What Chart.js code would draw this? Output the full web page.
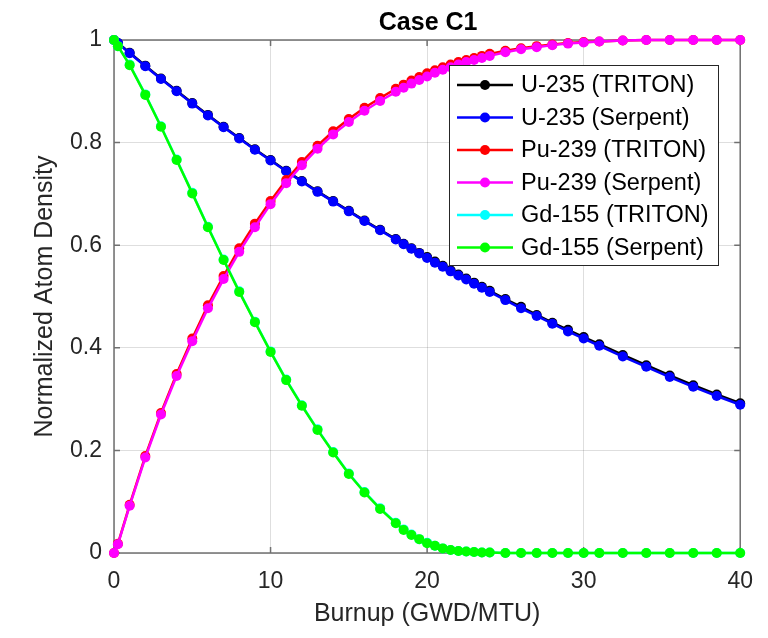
<!DOCTYPE html>
<html>
<head>
<meta charset="utf-8">
<script src="https://cdn.jsdelivr.net/npm/chart.js@4"></script>
<style>body{margin:0;background:#fff}</style>
</head>
<body>
<canvas id="myChart" width="768" height="638"></canvas>
<script>
// Datos
const burnup = [0, 0.25, 1, 2, 3, 4, 5, 6, 7, 8, 9, 10, 11, 12, 13, 14, 15, 16, 17, 18,
  18.5, 19, 19.5, 20, 20.5, 21, 21.5, 22, 22.5, 23, 23.5, 24,
  25, 26, 27, 28, 29, 30, 31, 32.5, 34, 35.5, 37, 38.5, 40];

const u235Triton = [1.000, 0.994, 0.975, 0.950, 0.925, 0.901, 0.877, 0.854, 0.831, 0.809, 0.787, 0.766, 0.745, 0.725, 0.705, 0.686, 0.667, 0.648, 0.630, 0.612,
  0.603, 0.594, 0.585, 0.577, 0.568, 0.560, 0.551, 0.543, 0.535, 0.527, 0.519, 0.511,
  0.495, 0.480, 0.464, 0.449, 0.435, 0.421, 0.407, 0.386, 0.366, 0.346, 0.327, 0.309, 0.292];
const u235Serpent = [1.000, 0.994, 0.974, 0.949, 0.924, 0.900, 0.876, 0.853, 0.830, 0.808, 0.786, 0.765, 0.744, 0.724, 0.704, 0.685, 0.666, 0.647, 0.629, 0.611,
  0.602, 0.593, 0.584, 0.575, 0.566, 0.558, 0.549, 0.541, 0.533, 0.525, 0.517, 0.509,
  0.493, 0.477, 0.462, 0.447, 0.432, 0.418, 0.404, 0.383, 0.363, 0.343, 0.324, 0.306, 0.289];
const pu239Triton = [0.000, 0.018, 0.094, 0.189, 0.273, 0.349, 0.418, 0.483, 0.540, 0.594, 0.642, 0.686, 0.727, 0.762, 0.794, 0.822, 0.846, 0.868, 0.887, 0.905,
  0.913, 0.921, 0.928, 0.935, 0.941, 0.947, 0.952, 0.957, 0.961, 0.965, 0.969, 0.973,
  0.979, 0.984, 0.988, 0.991, 0.994, 0.996, 0.997, 0.999, 1.000, 1.000, 1.000, 1.000, 1.000];
const pu239Serpent = [0.000, 0.017, 0.092, 0.186, 0.270, 0.345, 0.413, 0.477, 0.534, 0.587, 0.635, 0.680, 0.721, 0.756, 0.788, 0.816, 0.840, 0.862, 0.881, 0.899,
  0.907, 0.915, 0.922, 0.929, 0.936, 0.942, 0.947, 0.952, 0.957, 0.961, 0.965, 0.969,
  0.976, 0.982, 0.986, 0.990, 0.993, 0.995, 0.997, 0.999, 1.000, 1.000, 1.000, 1.000, 1.000];
const gd155Triton = [1.000, 0.988, 0.952, 0.894, 0.832, 0.767, 0.702, 0.636, 0.572, 0.510, 0.451, 0.393, 0.338, 0.288, 0.241, 0.197, 0.155, 0.119, 0.087, 0.059,
  0.046, 0.036, 0.027, 0.020, 0.014, 0.009, 0.006, 0.004, 0.003, 0.002, 0.001, 0.001,
  0.000, 0.000, 0.000, 0.000, 0.000, 0.000, 0.000, 0.000, 0.000, 0.000, 0.000, 0.000, 0.000];
const gd155Serpent = [1.000, 0.988, 0.951, 0.893, 0.831, 0.766, 0.701, 0.635, 0.571, 0.509, 0.450, 0.392, 0.337, 0.287, 0.240, 0.196, 0.154, 0.118, 0.086, 0.058,
  0.045, 0.035, 0.027, 0.019, 0.014, 0.009, 0.006, 0.004, 0.003, 0.002, 0.001, 0.001,
  0.000, 0.000, 0.000, 0.000, 0.000, 0.000, 0.000, 0.000, 0.000, 0.000, 0.000, 0.000, 0.000];

const seriesLabels = ['U-235 (TRITON)', 'U-235 (Serpent)', 'Pu-239 (TRITON)', 'Pu-239 (Serpent)', 'Gd-155 (TRITON)', 'Gd-155 (Serpent)'];
const seriesValues = [u235Triton, u235Serpent, pu239Triton, pu239Serpent, gd155Triton, gd155Serpent];
const seriesColors = ['#000000', '#0000ff', '#ff0000', '#ff00ff', '#00ffff', '#00ff00'];

const xTicks = [0, 10, 20, 30, 40];
const yTicks = [0, 0.2, 0.4, 0.6, 0.8, 1];

const FONT = '"Liberation Sans", Arial, Helvetica, sans-serif';

// Caja de ejes, titulo y leyenda estilo MATLAB
const matlabPlugin = {
  id: 'matlabPlugin',
  beforeDatasetsDraw(chart) {
    const {ctx, chartArea: a, scales} = chart;
    ctx.save();
    ctx.strokeStyle = '#707070';
    ctx.lineWidth = 1.5;
    ctx.strokeRect(a.left, a.top, a.right - a.left, a.bottom - a.top);
    ctx.beginPath();
    xTicks.forEach(v => {
      const x = scales.x.getPixelForValue(v);
      ctx.moveTo(x, a.bottom); ctx.lineTo(x, a.bottom - 6);
      ctx.moveTo(x, a.top); ctx.lineTo(x, a.top + 6);
    });
    yTicks.forEach(v => {
      const y = scales.y.getPixelForValue(v);
      ctx.moveTo(a.left, y); ctx.lineTo(a.left + 6, y);
      ctx.moveTo(a.right, y); ctx.lineTo(a.right - 6, y);
    });
    ctx.stroke();
    ctx.restore();
  },
  afterDraw(chart) {
    const {ctx, chartArea: a} = chart;
    ctx.save();
    // Titulo
    ctx.fillStyle = '#000';
    ctx.font = 'bold 25px ' + FONT;
    ctx.textAlign = 'center';
    ctx.textBaseline = 'alphabetic';
    ctx.fillText('Case C1', (a.left + a.right) / 2 + 1, 30);
    // Leyenda
    const bx = 449, by = 65, bw = 269, bh = 200;
    ctx.fillStyle = '#fff';
    ctx.fillRect(bx, by, bw, bh);
    ctx.strokeStyle = '#262626';
    ctx.lineWidth = 1;
    ctx.strokeRect(bx + 0.5, by + 0.5, bw, bh);
    ctx.font = '23.5px ' + FONT;
    ctx.textAlign = 'left';
    ctx.textBaseline = 'middle';
    chart.data.datasets.forEach((ds, i) => {
      const y = 85 + i * 32.5;
      ctx.strokeStyle = ds.borderColor;
      ctx.lineWidth = 2.5;
      ctx.beginPath();
      ctx.moveTo(457, y); ctx.lineTo(513, y);
      ctx.stroke();
      ctx.fillStyle = ds.borderColor;
      ctx.beginPath();
      ctx.arc(485, y, 5, 0, Math.PI * 2);
      ctx.fill();
      ctx.fillStyle = '#000';
      ctx.fillText(ds.label, 521, y + 1);
    });
    ctx.restore();
  }
};

var ctx = document.getElementById('myChart').getContext('2d');
var chart = new Chart(ctx, {
  type: 'line',
  data: {
    datasets: seriesLabels.map((label, i) => ({
      label: label,
      data: burnup.map((b, j) => ({x: b, y: seriesValues[i][j]})),
      borderColor: seriesColors[i],
      backgroundColor: seriesColors[i],
      pointBackgroundColor: seriesColors[i],
      borderWidth: 2.5,
      pointRadius: 5,
      pointBorderWidth: 0,
      tension: 0,
      clip: false,
      order: seriesLabels.length - i
    }))
  },
  options: {
    responsive: false,
    animation: false,
    layout: {padding: {top: 40, right: 24, left: 0, bottom: 0}},
    plugins: {
      legend: {display: false},
      tooltip: {enabled: false}
    },
    scales: {
      x: {
        type: 'linear',
        min: 0, max: 40,
        afterBuildTicks: s => { s.ticks = xTicks.map(v => ({value: v})); },
        afterFit: s => { s.height = 85; },
        grid: {color: 'rgba(0,0,0,0.13)', lineWidth: 1, drawTicks: false},
        border: {display: false},
        ticks: {color: '#262626', font: {family: FONT, size: 23}, padding: 15, maxRotation: 0,
          callback: v => String(v)},
        title: {display: true, text: 'Burnup (GWD/MTU)', color: '#262626', font: {family: FONT, size: 25}, padding: {top: 0, bottom: 9}}
      },
      y: {
        min: 0, max: 1,
        afterBuildTicks: s => { s.ticks = yTicks.map(v => ({value: v})); },
        afterFit: s => { s.width = 114; },
        grid: {color: 'rgba(0,0,0,0.13)', lineWidth: 1, drawTicks: false},
        border: {display: false},
        ticks: {color: '#262626', font: {family: FONT, size: 23}, padding: 12,
          callback: v => String(v)},
        title: {display: true, text: 'Normalized Atom Density', color: '#262626', font: {family: FONT, size: 25}, padding: {top: 30, bottom: 0}}
      }
    }
  },
  plugins: [matlabPlugin]
});
</script>
</body>
</html>
